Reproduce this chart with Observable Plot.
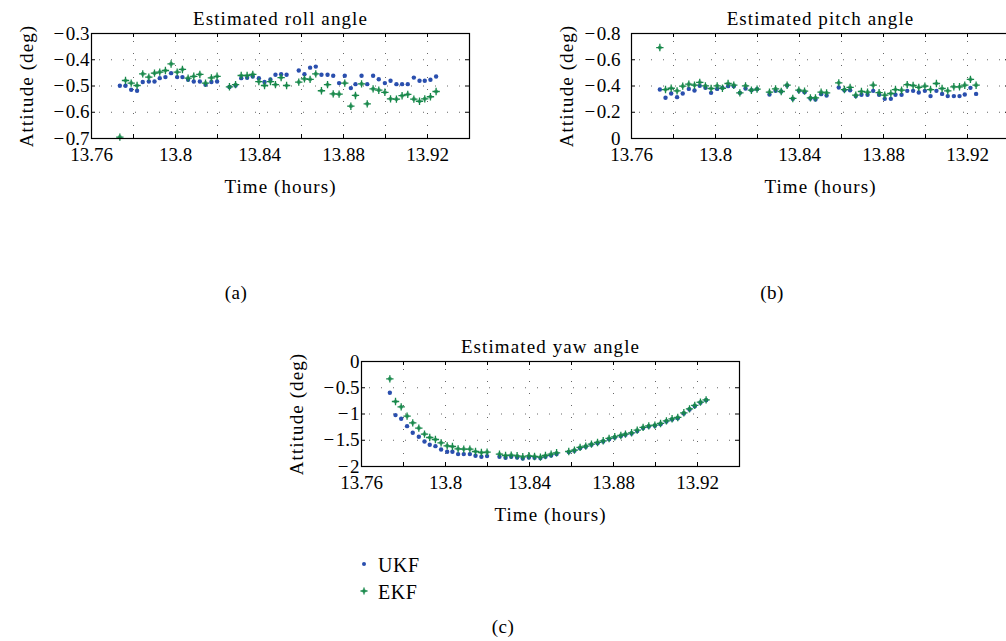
<!DOCTYPE html>
<html><head><meta charset="utf-8">
<script src="https://cdn.jsdelivr.net/npm/d3@7"></script>
<script src="https://cdn.jsdelivr.net/npm/@observablehq/plot@0.6"></script>
<style>
html,body{margin:0;padding:0;background:#fff;overflow:hidden;width:1006px;height:641px;}
body{position:relative;font-family:"Liberation Serif",serif;color:#000;}
.panel{position:absolute;}
.lab{position:absolute;font-size:19px;line-height:20px;transform:translateX(-50%);white-space:nowrap;letter-spacing:0.5px;}
.leg{position:absolute;font-size:20px;line-height:20px;white-space:nowrap;letter-spacing:0.5px;}
</style></head><body>
<div id="roll" class="panel" style="left:0;top:0"></div>
<div id="pitch" class="panel" style="left:540px;top:0"></div>
<div id="yaw" class="panel" style="left:270px;top:328px"></div>
<div class="lab" style="left:236px;top:283px">(a)</div>
<div class="lab" style="left:772px;top:283px">(b)</div>
<div class="lab" style="left:503px;top:617px">(c)</div>
<div id="legend"></div>
<script>
// ---- data ----
const timeHours = [
  13.7735, 13.7762, 13.7789, 13.7817, 13.7844, 13.7873, 13.7900, 13.7925, 13.7952, 13.7979, 13.8008, 13.8033, 13.8060, 13.8087, 13.8116, 13.8143, 13.8171, 13.8198,
  13.8257, 13.8286, 13.8313, 13.8341, 13.8368, 13.8397, 13.8424, 13.8452, 13.8476, 13.8503, 13.8529,
  13.8587, 13.8614, 13.8641, 13.8668, 13.8695, 13.8724, 13.8751, 13.8779, 13.8806, 13.8835, 13.8857, 13.8886, 13.8913, 13.8941, 13.8968, 13.8997, 13.9024, 13.9052, 13.9079, 13.9106, 13.9135, 13.9162, 13.9187, 13.9214, 13.9241
];
const rollUKF = [
  -0.499, -0.499, -0.514, -0.518, -0.485, -0.483, -0.483, -0.470, -0.466, -0.451, -0.466, -0.466, -0.476, -0.483, -0.483, -0.495, -0.485, -0.483,
  -0.504, -0.498, -0.470, -0.469, -0.464, -0.470, -0.485, -0.475, -0.457, -0.455, -0.457,
  -0.441, -0.455, -0.430, -0.426, -0.457, -0.457, -0.461, -0.489, -0.461, -0.508, -0.493, -0.461, -0.493, -0.461, -0.474, -0.489, -0.480, -0.493, -0.493, -0.493, -0.468, -0.480, -0.480, -0.476, -0.464
];
const rollEKF = [
  -0.695, -0.479, -0.489, -0.498, -0.454, -0.466, -0.451, -0.447, -0.441, -0.416, -0.447, -0.437, -0.470, -0.463, -0.456, -0.489, -0.469, -0.463,
  -0.503, -0.495, -0.460, -0.460, -0.456, -0.483, -0.498, -0.483, -0.495, -0.468, -0.498,
  -0.485, -0.473, -0.475, -0.454, -0.518, -0.495, -0.530, -0.531, -0.489, -0.577, -0.536, -0.492, -0.568, -0.511, -0.516, -0.524, -0.549, -0.550, -0.537, -0.532, -0.550, -0.558, -0.549, -0.541, -0.521
];
const pitchUKF = [
  -0.373, -0.310, -0.343, -0.315, -0.343, -0.378, -0.366, -0.401, -0.386, -0.348, -0.378, -0.386, -0.399, -0.399, -0.348, -0.381, -0.368, -0.376,
  -0.335, -0.363, -0.358, -0.404, -0.302, -0.363, -0.353, -0.305, -0.297, -0.338, -0.328,
  -0.389, -0.368, -0.368, -0.323, -0.333, -0.333, -0.363, -0.333, -0.302, -0.302, -0.333, -0.333, -0.363, -0.363, -0.350, -0.363, -0.323, -0.363, -0.340, -0.323, -0.323, -0.323, -0.335, -0.386, -0.340
];
const pitchEKF = [
  -0.693, -0.373, -0.383, -0.363, -0.399, -0.414, -0.406, -0.427, -0.401, -0.381, -0.401, -0.383, -0.419, -0.406, -0.348, -0.401, -0.368, -0.376,
  -0.353, -0.378, -0.358, -0.406, -0.305, -0.368, -0.361, -0.310, -0.310, -0.353, -0.348,
  -0.424, -0.373, -0.389, -0.330, -0.358, -0.353, -0.406, -0.350, -0.330, -0.343, -0.373, -0.368, -0.411, -0.404, -0.389, -0.399, -0.373, -0.419, -0.381, -0.363, -0.394, -0.394, -0.406, -0.450, -0.406
];
const yawUKF = [
  -0.596, -1.021, -1.091, -1.231, -1.358, -1.434, -1.524, -1.587, -1.612, -1.676, -1.720, -1.720, -1.764, -1.764, -1.764, -1.796, -1.815, -1.802,
  -1.815, -1.834, -1.815, -1.828, -1.847, -1.828, -1.834, -1.840, -1.815, -1.790, -1.764,
  -1.726, -1.701, -1.650, -1.625, -1.587, -1.555, -1.523, -1.479, -1.447, -1.421, -1.396, -1.371, -1.326, -1.269, -1.237, -1.225, -1.193, -1.142, -1.104, -1.079, -0.990, -0.914, -0.850, -0.787, -0.736
];
const yawEKF = [
  -0.330, -0.762, -0.863, -1.040, -1.168, -1.269, -1.383, -1.448, -1.486, -1.549, -1.606, -1.619, -1.663, -1.669, -1.669, -1.714, -1.733, -1.727,
  -1.764, -1.790, -1.783, -1.796, -1.815, -1.796, -1.809, -1.822, -1.790, -1.764, -1.739,
  -1.714, -1.688, -1.637, -1.612, -1.574, -1.542, -1.510, -1.466, -1.434, -1.409, -1.383, -1.358, -1.307, -1.256, -1.225, -1.212, -1.180, -1.130, -1.091, -1.066, -0.977, -0.901, -0.837, -0.774, -0.730
];
const xDomain = [13.76, 13.94];
const xGridTicks = [13.76, 13.78, 13.80, 13.82, 13.84, 13.86, 13.88, 13.90, 13.92, 13.94];
const xLabelTicks = [13.76, 13.80, 13.84, 13.88, 13.92];
const rollTicks = [-0.7, -0.6, -0.5, -0.4, -0.3];
const pitchTicks = [-0.8, -0.6, -0.4, -0.2, 0];
const yawTicks = [-2, -1.5, -1, -0.5, 0];
const panelTitles = ["Estimated roll angle", "Estimated pitch angle", "Estimated yaw angle"];
const xLabel = "Time (hours)";
const yLabel = "Attitude (deg)";
const seriesNames = ["UKF", "EKF"];
const seriesColors = ["#2a4fae", "#17884a"];

// ---- drawing ----
const fmtX = d => String(+d.toFixed(2));
const fmtY = d => (d < 0 ? "\u2212\u200A" : "") + String(+Math.abs(d).toFixed(2));
const FRAME_H = 105, FRAME_W = 378;

function panel(el, {title, ukf, ekf, yDomain, yTicks, yReverse, yPad}) {
  const ukfData = timeHours.map((t, i) => ({t, v: ukf[i]}));
  const ekfData = timeHours.map((t, i) => ({t, v: ekf[i]}));
  const chart = Plot.plot({
    width: 500, height: 210,
    marginLeft: 91, marginRight: 31, marginTop: 33, marginBottom: 72,
    style: {fontFamily: "Liberation Serif", fontSize: "19px", background: "transparent", overflow: "visible", maxWidth: "none", color: "#000"},
    x: {domain: xDomain, ticks: xLabelTicks, tickFormat: fmtX, tickSize: 0, tickPadding: 9, label: null},
    y: {domain: yDomain, reverse: yReverse, ticks: yTicks, tickFormat: fmtY, tickSize: 0, tickPadding: yPad, label: null},
    marks: [
      Plot.ruleX(xGridTicks, {x: d => d, stroke: "#666", strokeWidth: 1, strokeDasharray: "1,11", strokeDashoffset: 4}),
      Plot.ruleY(yTicks, {y: d => d, stroke: "#666", strokeWidth: 1, strokeDasharray: "1,11", strokeDashoffset: 4}),
      Plot.ruleX(xGridTicks, {x: d => d, insetTop: FRAME_H - 4, stroke: "#000"}),
      Plot.ruleX(xGridTicks, {x: d => d, insetBottom: FRAME_H - 4, stroke: "#000"}),
      Plot.ruleY(yTicks, {y: d => d, insetRight: FRAME_W - 4, stroke: "#000"}),
      Plot.ruleY(yTicks, {y: d => d, insetLeft: FRAME_W - 4, stroke: "#000"}),
      Plot.dot(ukfData, {x: "t", y: "v", r: 2.2, fill: seriesColors[0], stroke: "none"}),
      Plot.dot(ekfData, {x: "t", y: "v", r: 2.1, fill: seriesColors[1], fillOpacity: 0.7, stroke: "none"}),
      Plot.dot(ekfData, {x: "t", y: "v", symbol: "plus", r: 2.5, stroke: seriesColors[1], strokeWidth: 1.3}),
      Plot.frame({stroke: "#000", strokeWidth: 1.2}),
      Plot.text([title], {text: d => d, frameAnchor: "top", dy: -9, lineAnchor: "bottom", fontSize: 19}),
      Plot.text([xLabel], {text: d => d, frameAnchor: "bottom", dy: 54, lineAnchor: "bottom", fontSize: 19}),
      Plot.text([yLabel], {text: d => d, frameAnchor: "left", textAnchor: "middle", rotate: -90, dx: -59, lineAnchor: "bottom", fontSize: 19})
    ]
  });
  d3.select(chart).selectAll("g[aria-label='text'] text").attr("letter-spacing", "1.1px");
  document.getElementById(el).appendChild(chart);
}

panel("roll", {title: panelTitles[0], ukf: rollUKF, ekf: rollEKF, yDomain: [-0.7, -0.3], yTicks: rollTicks, yReverse: false, yPad: 2});
panel("pitch", {title: panelTitles[1], ukf: pitchUKF, ekf: pitchEKF, yDomain: [-0.8, 0], yTicks: pitchTicks, yReverse: true, yPad: 11});
panel("yaw", {title: panelTitles[2], ukf: yawUKF, ekf: yawEKF, yDomain: [-2, 0], yTicks: yawTicks, yReverse: false, yPad: 2});

// legend
const leg = document.getElementById("legend");
seriesNames.forEach((name, i) => {
  const cy = 564 + i * 27;
  const svgNS = "http://www.w3.org/2000/svg";
  const s = document.createElementNS(svgNS, "svg");
  s.setAttribute("width", 16); s.setAttribute("height", 16);
  s.style.position = "absolute"; s.style.left = (364 - 8) + "px"; s.style.top = (cy - 8) + "px";
  if (i === 0) {
    s.innerHTML = `<circle cx="8" cy="8" r="2" fill="${seriesColors[0]}"/>`;
  } else {
    s.innerHTML = `<circle cx="8" cy="8" r="1.9" fill="${seriesColors[1]}" fill-opacity="0.7"/><path d="M4.5,8H11.5M8,4.5V11.5" stroke="${seriesColors[1]}" stroke-width="1.3"/>`;
  }
  leg.appendChild(s);
  const t = document.createElement("div");
  t.className = "leg"; t.textContent = name;
  t.style.left = "378px"; t.style.top = (cy + 8 - 17) + "px";
  leg.appendChild(t);
});
</script>
</body></html>
